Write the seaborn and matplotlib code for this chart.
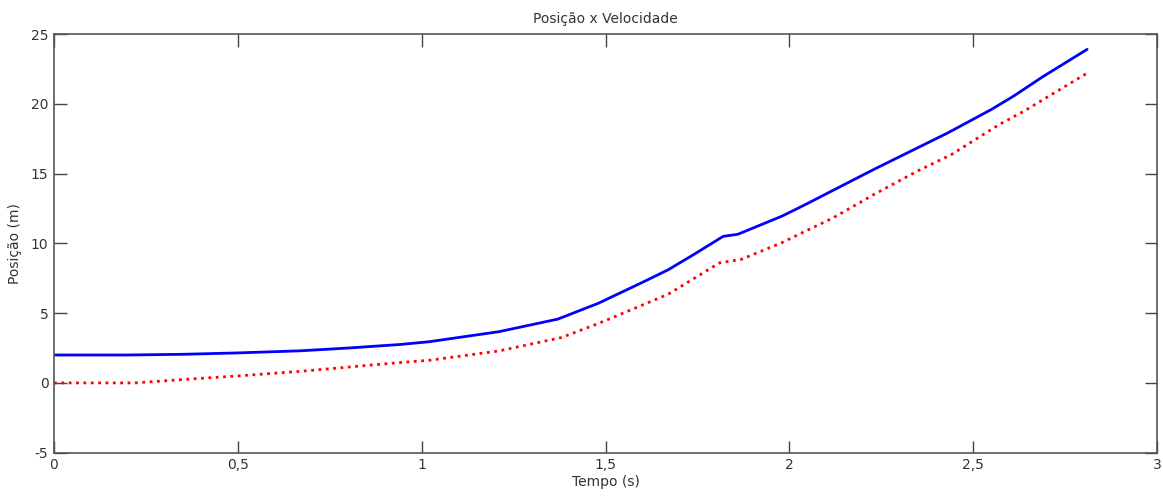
import matplotlib
matplotlib.use("Agg")
import matplotlib.pyplot as plt
import seaborn as sns
import pandas as pd
from matplotlib.ticker import FuncFormatter, MultipleLocator

# Data
tempo_pos = [0.0, 0.2, 0.35, 0.5, 0.67, 0.8, 0.94, 1.02, 1.21, 1.37, 1.48, 1.6,
             1.67, 1.74, 1.82, 1.86, 1.98, 2.03, 2.06, 2.23, 2.43, 2.55, 2.61,
             2.69, 2.81]
posicao = [2.0, 2.0, 2.05, 2.15, 2.3, 2.5, 2.75, 2.95, 3.67, 4.57, 5.7, 7.2,
           8.1, 9.2, 10.5, 10.65, 11.95, 12.6, 13.0, 15.3, 17.9, 19.6, 20.55,
           21.95, 23.9]

tempo_vel = [0.0, 0.22, 0.36, 0.5, 0.67, 0.94, 1.02, 1.21, 1.38, 1.48, 1.67, 1.81,
             1.87, 1.98, 2.03, 2.12, 2.23, 2.35, 2.44, 2.57, 2.64, 2.81]
velocidade = [0.0, 0.0, 0.26, 0.5, 0.83, 1.46, 1.62, 2.29, 3.25, 4.25, 6.35, 8.6,
              8.86, 10.05, 10.7, 11.84, 13.5, 15.2, 16.35, 18.5, 19.5, 22.2]

title = "Posição x Velocidade"
xlabel = "Tempo (s)"
ylabel = "Posição (m)"

sns.set_theme(style="white")
plt.rcParams['font.family'] = ['DejaVu Sans']

fig = plt.figure(figsize=(11.63, 4.98), dpi=100)
ax = fig.add_axes([54 / 1163, 1 - 452.7 / 498, (1157 - 54) / 1163, (452.7 - 34) / 498])

df1 = pd.DataFrame({"t": tempo_pos, "y": posicao})
df2 = pd.DataFrame({"t": tempo_vel, "y": velocidade})
sns.lineplot(data=df1, x="t", y="y", ax=ax, color="#0000FF", linewidth=2.0)
sns.lineplot(data=df2, x="t", y="y", ax=ax, color="#FF0000", linewidth=2.0,
             linestyle=":")

ax.set_xlim(0, 3)
ax.set_ylim(-5, 25)
ax.xaxis.set_major_locator(MultipleLocator(0.5))
ax.yaxis.set_major_locator(MultipleLocator(5))
fmt = FuncFormatter(lambda v, p: ("%g" % v).replace(".", ","))
ax.xaxis.set_major_formatter(fmt)
ax.yaxis.set_major_formatter(fmt)

text_color = "#333333"
ax.tick_params(direction="in", length=9, width=1, colors="#444444",
               labelcolor=text_color, labelsize=10, top=True, right=True,
               bottom=True, left=True, pad=4)
for s in ax.spines.values():
    s.set_color("#555555")
    s.set_linewidth(1.2)

ax.set_title(title, fontsize=10, color=text_color, pad=8)
ax.set_xlabel(xlabel, fontsize=10, color=text_color, labelpad=2)
ax.set_ylabel(ylabel, fontsize=10, color=text_color, labelpad=6)

fig.savefig("out.png", dpi=100, facecolor="white")
